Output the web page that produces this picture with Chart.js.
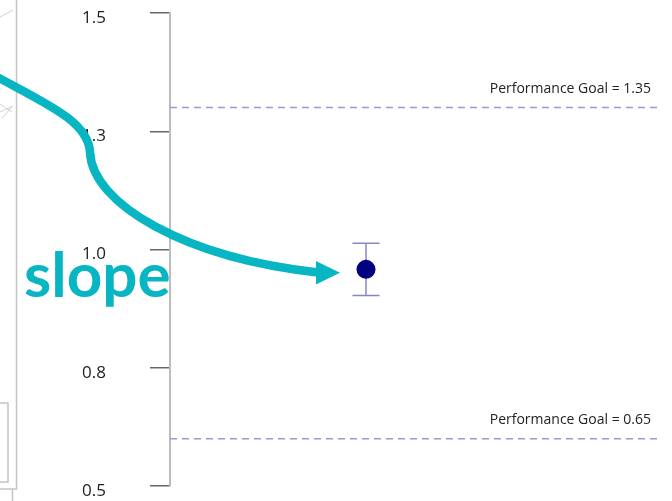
<!DOCTYPE html>
<html>
<head>
<meta charset="utf-8">
<script src="https://cdn.jsdelivr.net/npm/chart.js@4.4.0/dist/chart.umd.min.js"></script>
<style>
  html, body { margin: 0; padding: 0; background: #fff; }
  #wrap { width: 672px; height: 501px; }
</style>
</head>
<body>
<div id="wrap"><canvas id="chart" width="672" height="501"></canvas></div>
<script>
// valores
const tickValues = [0.5, 0.75, 1.0, 1.25, 1.5];
const tickLabels = ['0.5', '0.8', '1.0', '1.3', '1.5'];
const pointX = [0.40];
const pointY = [0.958];
const errLow = [0.903];
const errHigh = [1.013];
const goalLevels = [1.30, 0.60];
const goalLabels = ['Performance Goal = 1.35', 'Performance Goal = 0.65'];
const annotationText = 'slope';

const COR = {
    ponto: '#000080',
    erro: '#8585c8',
    meta: '#9898dc',
    eixo: '#bdbdbd',
    tick: '#666666',
    texto: '#222222',
    seta: '#08b5c3',
    rabisco: '#c4c4c4'
};

// barras de erro desenhadas antes dos pontos
const errorBars = {
    id: 'errorBars',
    beforeDatasetsDraw(chart) {
        const { ctx, scales: { x, y } } = chart;
        ctx.save();
        ctx.strokeStyle = COR.erro;
        ctx.lineWidth = 1.5;
        pointX.forEach((v, i) => {
            const px = x.getPixelForValue(v);
            const top = y.getPixelForValue(errHigh[i]);
            const bot = y.getPixelForValue(errLow[i]);
            ctx.beginPath();
            ctx.moveTo(px, top); ctx.lineTo(px, bot);
            ctx.moveTo(px - 13.5, top); ctx.lineTo(px + 13.5, top);
            ctx.moveTo(px - 13.5, bot); ctx.lineTo(px + 13.5, bot);
            ctx.stroke();
        });
        ctx.restore();
    }
};

// rotulos das metas, seta e texto por cima
const overlay = {
    id: 'overlay',
    afterDraw(chart) {
        const { ctx, chartArea, scales: { y } } = chart;
        ctx.save();

        ctx.font = '14px "Open Sans"';
        ctx.fillStyle = COR.texto;
        ctx.textAlign = 'right';
        ctx.textBaseline = 'middle';
        goalLevels.forEach((g, i) => {
            ctx.fillText(goalLabels[i], chartArea.right - 9, y.getPixelForValue(g) - 19);
        });

        // restos da figura ao lado (esquerda)
        ctx.strokeStyle = COR.rabisco;
        ctx.lineWidth = 1.5;
        ctx.beginPath();
        ctx.moveTo(16.5, 0); ctx.lineTo(16.5, 489); ctx.lineTo(0, 489);
        ctx.moveTo(0, 403); ctx.lineTo(8, 403); ctx.lineTo(8, 482); ctx.lineTo(0, 482);
        ctx.moveTo(12.5, 489); ctx.lineTo(12.5, 501);
        ctx.stroke();
        ctx.lineWidth = 0.8;
        ctx.beginPath();
        ctx.moveTo(0, 17); ctx.lineTo(13, 10);
        ctx.moveTo(0, 112); ctx.lineTo(13, 106);
        ctx.moveTo(2, 118); ctx.lineTo(12, 107);
        ctx.moveTo(0, 104); ctx.lineTo(12, 112);
        ctx.stroke();

        // seta curva
        ctx.strokeStyle = COR.seta;
        ctx.fillStyle = COR.seta;
        ctx.lineWidth = 8.5;
        ctx.lineCap = 'butt';
        ctx.beginPath();
        ctx.moveTo(-10, 73);
        ctx.bezierCurveTo(42, 102, 88, 120, 90, 152);
        ctx.bezierCurveTo(92, 204, 185, 258, 318, 272.5);
        ctx.stroke();
        ctx.beginPath();
        ctx.moveTo(340, 272.7);
        ctx.lineTo(316, 261);
        ctx.lineTo(316, 284.5);
        ctx.closePath();
        ctx.fill();

        ctx.font = 'bold 62px Lato';
        ctx.textAlign = 'left';
        ctx.textBaseline = 'alphabetic';
        ctx.fillText(annotationText, 24, 297);

        ctx.restore();
    }
};

const ctx = document.getElementById('chart').getContext('2d');
new Chart(ctx, {
    type: 'scatter',
    data: {
        datasets: [
            {
                label: 'Slope',
                data: pointX.map((v, i) => ({ x: v, y: pointY[i] })),
                backgroundColor: COR.ponto,
                borderWidth: 0,
                pointRadius: 9.5,
                order: 0
            },
            ...goalLevels.map((g, i) => ({
                type: 'line',
                label: goalLabels[i],
                data: [{ x: 0, y: g }, { x: 1, y: g }],
                borderColor: COR.meta,
                borderWidth: 1.5,
                borderDash: [7, 5],
                pointRadius: 0,
                fill: false,
                order: 1
            }))
        ]
    },
    options: {
        responsive: false,
        animation: false,
        layout: { autoPadding: false, padding: { top: 13, bottom: 15, left: 0, right: 12 } },
        plugins: { legend: { display: false }, tooltip: { enabled: false } },
        scales: {
            x: { type: 'linear', min: 0, max: 1, display: false },
            y: {
                type: 'linear',
                min: 0.5,
                max: 1.5,
                afterBuildTicks: (s) => { s.ticks = tickValues.map(v => ({ value: v })); },
                afterFit: (s) => { s.width = 170; s.paddingTop = 0; s.paddingBottom = 0; },
                border: { color: COR.eixo, width: 2 },
                grid: { drawOnChartArea: false, tickLength: 20, color: COR.tick, lineWidth: 1.5 },
                ticks: {
                    padding: 44,
                    labelOffset: 5,
                    color: COR.texto,
                    font: { family: '"Open Sans"', size: 17 },
                    callback: (v, i) => tickLabels[i]
                }
            }
        }
    },
    plugins: [errorBars, overlay]
});
</script>
</body>
</html>
